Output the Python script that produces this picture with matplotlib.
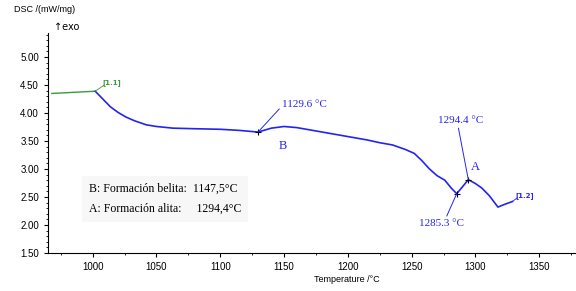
import numpy as np
import matplotlib.pyplot as plt
from matplotlib.ticker import MultipleLocator

# Segmento inicial (verde) y curva DSC (azul)
temp_green = [968, 985, 1002]
dsc_green = [4.35, 4.37, 4.39]

temp_blue = [1002, 1008, 1014, 1020, 1026, 1033, 1042, 1050, 1063, 1080,
             1100, 1115, 1129.6, 1140, 1150, 1160, 1175, 1190, 1200, 1215,
             1225, 1235, 1245, 1252, 1258, 1264, 1270, 1276, 1281, 1285.3,
             1289, 1294.4, 1300, 1305, 1311, 1317.6, 1323, 1329]
dsc_blue = [4.39, 4.25, 4.11, 4.01, 3.93, 3.86, 3.79, 3.76, 3.73, 3.72,
            3.71, 3.69, 3.66, 3.73, 3.76, 3.74, 3.68, 3.62, 3.58, 3.52,
            3.47, 3.43, 3.35, 3.28, 3.15, 3.00, 2.88, 2.80, 2.66, 2.56,
            2.66, 2.81, 2.74, 2.66, 2.52, 2.32, 2.37, 2.42]

# Picos marcados
peaks_t = [1129.6, 1285.3, 1294.4]
peaks_v = [3.66, 2.56, 2.81]
peak_labels = ['1129.6 °C', '1285.3 °C', '1294.4 °C']
peak_text_pos = [(1166, 4.16), (1273, 2.03), (1288, 3.86)]
peak_relpos = [(0.0, 0.3), (0.6, 1.0), (0.45, 0.0)]

legend_lines = ['B: Formación belita:  1147,5°C', 'A: Formación alita:     1294,4°C']

blue = '#2424f0'
green = '#3a9a3a'

fig = plt.figure(figsize=(5.76, 2.91), dpi=100)
ax = fig.add_axes([48 / 576, 38 / 291, 527 / 576, 220 / 291])

ax.plot(temp_green, dsc_green, color=green, lw=1.0)
ax.plot(temp_blue, dsc_blue, color=blue, lw=1.2)

for t, v, lab, (tx, ty), rp in zip(peaks_t, peaks_v, peak_labels, peak_text_pos, peak_relpos):
    ax.plot(t, v, marker='+', color='black', ms=5, mew=0.8)
    ax.annotate(lab, xy=(t, v), xytext=(tx, ty), ha='center', va='center',
                color=blue, fontsize=8, family='Liberation Serif',
                arrowprops=dict(arrowstyle='-', color=blue, lw=0.7,
                                shrinkA=0, shrinkB=0, relpos=rp))

ax.text(1149, 3.42, 'B', color=blue, fontsize=9, family='Liberation Serif',
        ha='center', va='center')
ax.text(1300, 3.03, 'A', color=blue, fontsize=9, family='Liberation Serif',
        ha='center', va='center')
ax.text(1008, 4.55, '[1.1]', color=green, fontsize=5, weight='bold',
        ha='left', va='center')
ax.plot([1002, 1009], [4.39, 4.50], color=green, lw=0.6)
ax.text(1331, 2.52, '[1.2]', color=blue, fontsize=5, weight='bold',
        ha='left', va='center')
ax.plot([1329, 1333], [2.42, 2.49], color=blue, lw=0.6)

# Cuadro de texto
ax.text(997, 2.47, legend_lines[0] + '\n' + legend_lines[1],
        fontsize=8.5, family='Liberation Serif', ha='left', va='center',
        linespacing=1.9,
        bbox=dict(boxstyle='square,pad=0.6', fc='#f7f7f7', ec='none'))

ax.set_xlim(965, 1378)
ax.set_ylim(1.5, 5.43)
ax.xaxis.set_minor_locator(MultipleLocator(25))
ax.yaxis.set_minor_locator(MultipleLocator(0.1))
ax.set_xticks(np.arange(1000, 1351, 50))
ax.set_yticks(np.arange(1.5, 5.01, 0.5))
ax.set_yticklabels([f'{v:.2f}' for v in np.arange(1.5, 5.01, 0.5)])

for s in ['top', 'right']:
    ax.spines[s].set_visible(False)
ax.tick_params(axis='both', which='major', labelsize=7, direction='out', length=3)
ax.tick_params(axis='both', which='minor', direction='out', length=1.5)
for lab in ax.get_xticklabels() + ax.get_yticklabels():
    lab.set_family('Liberation Sans')

fig.text(347 / 576, 1 - 280 / 291, 'Temperature /°C', fontsize=6.5,
         family='Liberation Sans', ha='center', va='center')
fig.text(14 / 576, 1 - 10 / 291, 'DSC /(mW/mg)', fontsize=6.5,
         family='Liberation Sans', ha='left', va='center')
fig.text(54 / 576, 1 - 27 / 291, '↑exo', fontsize=7,
         family='DejaVu Sans', ha='left', va='center')

fig.savefig('out.png', dpi=100)
